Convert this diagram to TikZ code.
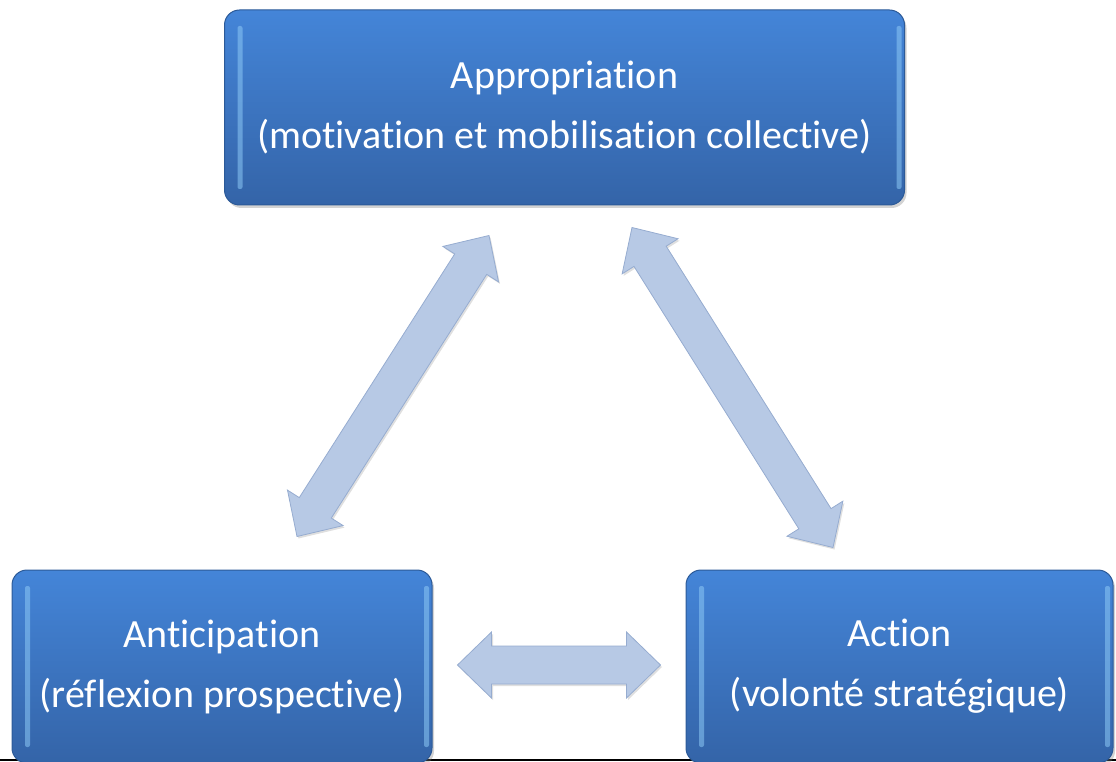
\documentclass[tikz,border=0pt]{standalone}
\usepackage{fontspec}
\setmainfont{Carlito}[Ligatures={NoCommon,NoContextual,NoRequired}, Contextuals=NoAlternate, RawFeature=-liga, RawFeature=-calt]
\usepackage{tikz}
\usetikzlibrary{positioning, calc, shadows}
\definecolor{boxtop}{RGB}{68,133,216}
\definecolor{boxbot}{RGB}{52,100,168}
\definecolor{boxedge}{RGB}{44,90,152}
\definecolor{boxshine}{RGB}{140,200,245}
\definecolor{arrfill}{RGB}{183,201,229}
\definecolor{arredge}{RGB}{150,172,208}
\tikzset{
  stage/.style={rectangle, rounded corners=15pt, align=center, text=white, inner sep=0pt,
    top color=boxtop, bottom color=boxbot, draw=boxedge, line width=1pt,
    font=\fontsize{40}{60}\selectfont,
    drop shadow={opacity=0.35, shadow xshift=2pt, shadow yshift=-3pt},
    path picture={
      \fill[boxshine, opacity=0.55, rounded corners=2pt] ([xshift=13pt,yshift=-16pt]path picture bounding box.north west) rectangle ([xshift=18pt,yshift=16pt]path picture bounding box.south west);
      \fill[boxshine, opacity=0.55, rounded corners=2pt] ([xshift=-8pt,yshift=-16pt]path picture bounding box.north east) rectangle ([xshift=-3pt,yshift=16pt]path picture bounding box.south east);
    }},
  blockarr/.style={fill=arrfill, draw=arredge, line width=0.8pt, line join=miter,
    drop shadow={opacity=0.25, shadow xshift=1.5pt, shadow yshift=-2pt}},
}
% fat double arrow between two named points
\newcommand{\blockarrow}[2]{%
  \draw[blockarr] (#1)
    -- ($(#1)!34pt!(#2)!33pt!90:(#2)$)
    -- ($(#1)!34pt!(#2)!19pt!90:(#2)$)
    -- ($(#2)!34pt!(#1)!19pt!-90:(#1)$)
    -- ($(#2)!34pt!(#1)!33pt!-90:(#1)$)
    -- (#2)
    -- ($(#2)!34pt!(#1)!33pt!90:(#1)$)
    -- ($(#2)!34pt!(#1)!19pt!90:(#1)$)
    -- ($(#1)!34pt!(#2)!19pt!-90:(#2)$)
    -- ($(#1)!34pt!(#2)!33pt!-90:(#2)$)
    -- cycle;}

\begin{document}
\begin{tikzpicture}[x=1pt, y=-1pt]
\useasboundingbox (0,0) rectangle (1116,762);
\draw[line width=2pt] (0,760) -- (1116,760);
\node (approp) [stage, minimum width=680pt, minimum height=195pt] at (564.5,107.5) {Appropriation\\(motivation et mobilisation collective)};
\node (antic) [stage, minimum width=420pt, minimum height=193pt] at (222,666.5) {Anticipation\\(réflexion prospective)};
\node (action) [stage, minimum width=427pt, minimum height=193pt] at (899.5,666.5) {Action\\(volonté stratégique)};
\coordinate (antic-in) at ([xshift=75pt,yshift=33pt]antic.north);
\coordinate (approp-l) at ([xshift=-75.5pt,yshift=-30pt]approp.south);
\coordinate (approp-r) at ([xshift=67.5pt,yshift=-22pt]approp.south);
\coordinate (action-in) at ([xshift=-66.5pt,yshift=22pt]action.north);
\coordinate (antic-r) at ([xshift=25pt,yshift=1.5pt]antic.east);
\coordinate (action-l) at ([xshift=-25pt,yshift=1.5pt]action.west);
\blockarrow{antic-in}{approp-l}
\blockarrow{approp-r}{action-in}
\blockarrow{antic-r}{action-l}
\end{tikzpicture}
\end{document}
